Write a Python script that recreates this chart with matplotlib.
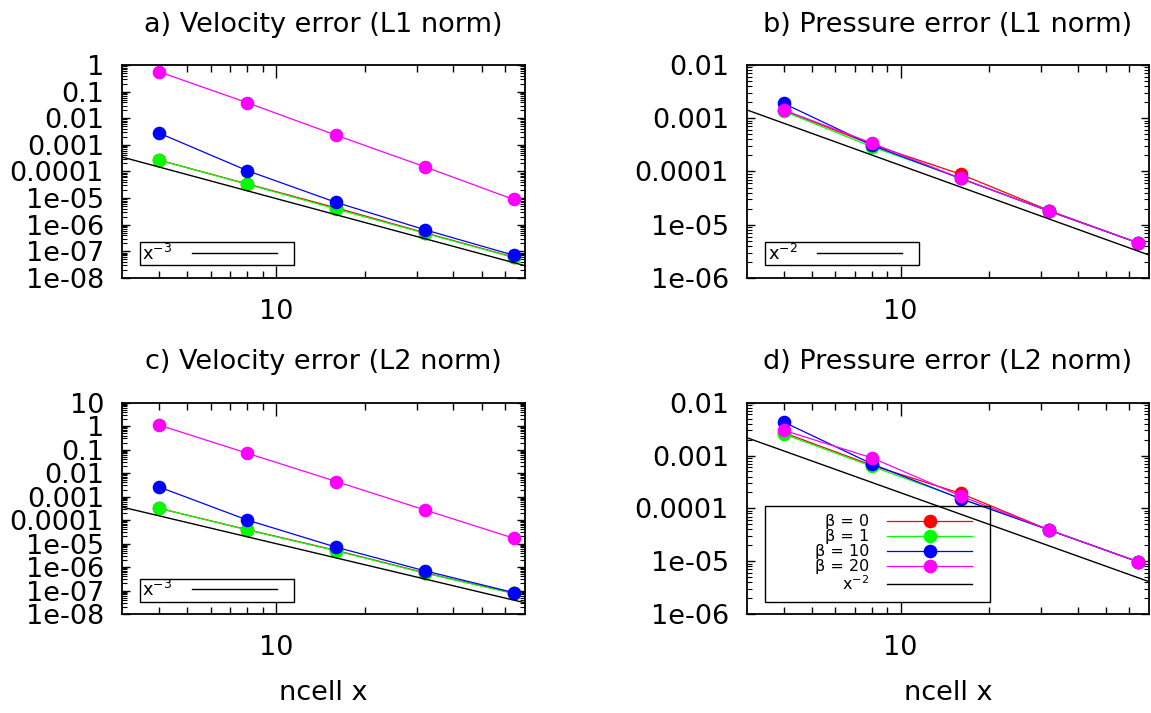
import numpy as np
import matplotlib
matplotlib.use("Agg")
import matplotlib.pyplot as plt
from matplotlib.ticker import FixedLocator, NullFormatter, LogLocator, FuncFormatter
from matplotlib.patches import Rectangle

# grid sizes
ncell = [4, 8, 16, 32, 64]
beta_labels = [r"β = 0", r"β = 1", r"β = 10", r"β = 20"]
beta_colors = ["#ff0000", "#00ff00", "#0000ff", "#ff00ff"]

# errors, one row per beta (0, 1, 10, 20)
vel_l1 = [[2.7e-4, 3.4e-5, 4.3e-6, 5.0e-7, 6.1e-8],
          [2.7e-4, 3.3e-5, 3.9e-6, 4.8e-7, 5.9e-8],
          [2.8e-3, 1.07e-4, 6.9e-6, 6.5e-7, 7.2e-8],
          [0.56, 0.038, 2.3e-3, 1.5e-4, 8.9e-6]]
pres_l1 = [[1.4e-3, 3.2e-4, 8.9e-5, 1.85e-5, 4.6e-6],
           [1.35e-3, 2.9e-4, 7.5e-5, 1.8e-5, 4.6e-6],
           [1.9e-3, 3.1e-4, 7.4e-5, 1.8e-5, 4.6e-6],
           [1.43e-3, 3.4e-4, 7.4e-5, 1.8e-5, 4.6e-6]]
vel_l2 = [[3.2e-4, 3.9e-5, 5.1e-6, 5.7e-7, 7.6e-8],
          [3.2e-4, 3.8e-5, 4.9e-6, 5.5e-7, 7.5e-8],
          [2.6e-3, 1.0e-4, 7.0e-6, 6.9e-7, 8.2e-8],
          [1.12, 0.07, 4.4e-3, 2.7e-4, 1.7e-5]]
pres_l2 = [[2.7e-3, 6.5e-4, 1.92e-4, 3.9e-5, 9.8e-6],
           [2.55e-3, 6.2e-4, 1.55e-4, 3.9e-5, 9.8e-6],
           [4.3e-3, 6.9e-4, 1.52e-4, 3.9e-5, 9.8e-6],
           [3.0e-3, 9.0e-4, 1.71e-4, 3.9e-5, 9.8e-6]]

# reference slopes, read at the plot edges
ref_x = [3, 70]
ref_vel_l1 = [3.5e-4, 2.9e-8]
ref_pres_l1 = [1.43e-3, 2.7e-6]
ref_vel_l2 = [3.6e-4, 3.0e-8]
ref_pres_l2 = [2.17e-3, 4.1e-6]

titles = ["a) Velocity error (L1 norm)", "b) Pressure error (L1 norm)",
          "c) Velocity error (L2 norm)", "d) Pressure error (L2 norm)"]
ref_labels = ["x$^{-3}$", "x$^{-2}$", "x$^{-3}$", "x$^{-2}$"]
ylims = [(1e-8, 1), (1e-6, 1e-2), (1e-8, 10), (1e-6, 1e-2)]

W, H = 1151, 713
fig = plt.figure(figsize=(W / 100, H / 100), dpi=100)

# axes boxes in pixels: left, top, width, height
boxes = [(122, 65, 403, 213), (747, 65, 402, 213),
         (122, 402.7, 403, 211.3), (747, 402.7, 402, 211.3)]

def yfmt(v, pos):
    return "%g" % v

panels = [(vel_l1, ref_vel_l1), (pres_l1, ref_pres_l1),
          (vel_l2, ref_vel_l2), (pres_l2, ref_pres_l2)]

FS = 19.5

for k, (data, ref) in enumerate(panels):
    l, t, w, h = boxes[k]
    ax = fig.add_axes([l / W, 1 - (t + h) / H, w / W, h / H])
    ax.set_xscale("log")
    ax.set_yscale("log")

    full_key = (k == 3)
    handles = []
    for i in range(4):
        ln, = ax.plot(ncell, data[i], color=beta_colors[i], lw=0.9,
                      marker="o", ms=8.8, mec=beta_colors[i], mfc=beta_colors[i])
        handles.append(ln)
    rl, = ax.plot(ref_x, ref, color="black", lw=1.0)

    ax.set_xlim(3, 70)
    ax.set_ylim(*ylims[k])

    ax.xaxis.set_major_locator(FixedLocator([10]))
    ax.xaxis.set_minor_locator(FixedLocator([4, 5, 6, 7, 8, 9, 20, 30, 40, 50, 60]))
    ax.xaxis.set_minor_formatter(NullFormatter())
    ax.xaxis.set_major_formatter(FuncFormatter(yfmt))
    ax.yaxis.set_major_locator(LogLocator(base=10, numticks=30))
    ax.yaxis.set_minor_locator(LogLocator(base=10, subs=np.arange(2, 10), numticks=30))
    ax.yaxis.set_major_formatter(FuncFormatter(yfmt))
    ax.yaxis.set_minor_formatter(NullFormatter())

    ax.tick_params(axis="x", which="major", direction="in", length=9, width=1,
                   top=True, pad=15, labelsize=FS)
    ax.tick_params(axis="x", which="minor", direction="in", length=5, width=1, top=True)
    ax.tick_params(axis="y", which="major", direction="in", length=6, width=1,
                   right=True, pad=13, labelsize=FS)
    ax.tick_params(axis="y", which="minor", direction="in", length=3.5, width=0.8, right=True)
    for s in ax.spines.values():
        s.set_linewidth(1.3)

    ax.set_title(titles[k], fontsize=FS, pad=24)
    if k >= 2:
        ax.set_xlabel("ncell x", fontsize=FS, labelpad=14)

    # key box
    if full_key:
        fw, fh = 225, 96
        key_h = handles + [rl]
        key_l = beta_labels + [ref_labels[k]]
        anchor = (225 / w, (12.5 + fh / 2) / h)
        kfs = 11.5
    else:
        fw, fh = 154, 23
        key_h = [rl]
        key_l = [ref_labels[k]]
        anchor = (155 / w, 24.5 / h)
        kfs = 12.8
    ax.add_patch(Rectangle((17.5 / w, 12.5 / h), fw / w, fh / h, transform=ax.transAxes,
                           fill=False, ec="black", lw=1.0, zorder=5))
    ax.legend(key_h, key_l, loc="center right", bbox_to_anchor=anchor, frameon=False,
              borderpad=0, borderaxespad=0, markerfirst=False,
              handlelength=85 / (kfs * 100 / 72), handletextpad=1.1,
              fontsize=kfs, labelspacing=0.0, numpoints=1)

fig.savefig("out.png", dpi=100, facecolor="white")
